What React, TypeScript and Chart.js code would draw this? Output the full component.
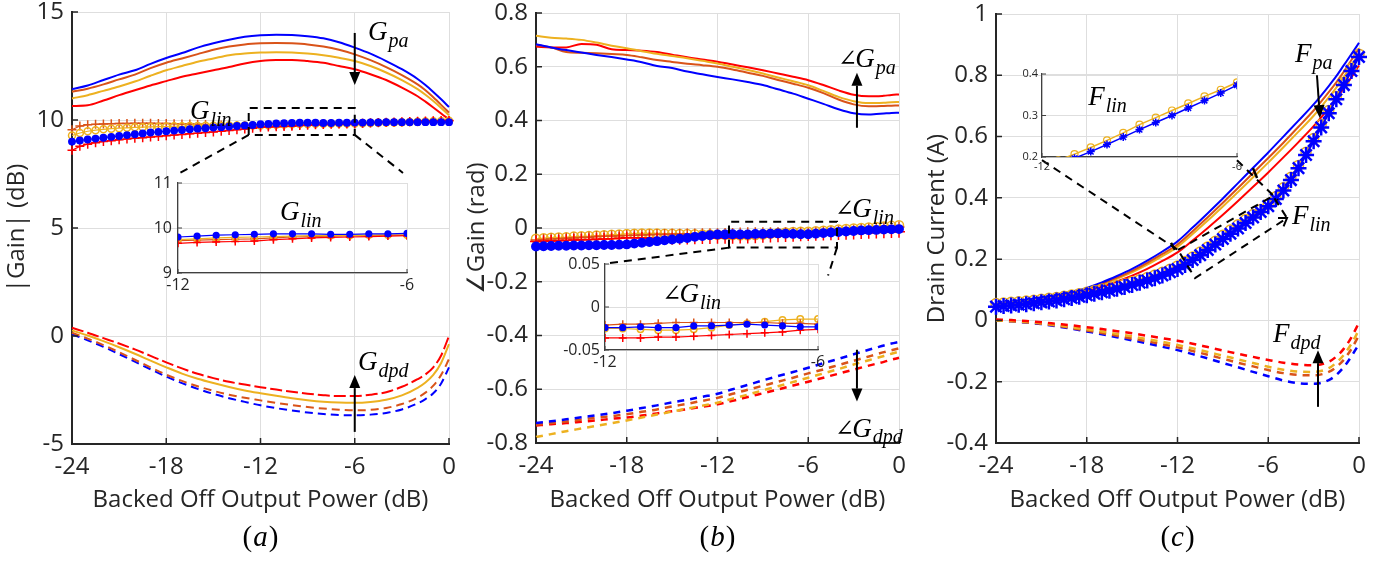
import React, { useEffect, useRef } from 'react';
import { Chart, registerables } from 'chart.js';

Chart.register(...registerables);

// Sample grids (dB of output back-off)
const X_LINE = [-24, -23, -22, -21, -20, -19, -18, -17, -16, -15, -14, -13, -12, -11, -10, -9, -8, -7, -6, -5, -4, -3, -2, -1.5, -1, -0.5, 0];
const X_MARK = [-24, -23.5, -23, -22.5, -22, -21.5, -21, -20.5, -20, -19.5, -19, -18.5, -18, -17.5, -17, -16.5, -16, -15.5, -15, -14.5, -14, -13.5, -13, -12.5, -12, -11.5, -11, -10.5, -10, -9.5, -9, -8.5, -8, -7.5, -7, -6.5, -6, -5.5, -5, -4.5, -4, -3.5, -3, -2.5, -2, -1.5, -1, -0.5, 0];

// Tick labels
const X_TICKS = [-24, -18, -12, -6, 0];
const INSET_X_TICKS = [-12, -6];
const A_Y_TICKS = [-5, 0, 5, 10, 15];
const B_Y_TICKS = [-0.8, -0.6, -0.4, -0.2, 0, 0.2, 0.4, 0.6, 0.8];
const C_Y_TICKS = [-0.4, -0.2, 0, 0.2, 0.4, 0.6, 0.8, 1];
const A_INSET_Y_TICKS = [9, 10, 11];
const B_INSET_Y_TICKS = [-0.05, 0, 0.05];
const C_INSET_Y_TICKS = [0.2, 0.3, 0.4];

// (a) |Gain| in dB
const GPA_BLUE = [11.43, 11.6, 11.85, 12.1, 12.3, 12.6, 12.87, 13.1, 13.35, 13.55, 13.72, 13.85, 13.92, 13.95, 13.94, 13.88, 13.78, 13.6, 13.35, 13.07, 12.73, 12.35, 11.9, 11.62, 11.3, 10.96, 10.6];
const GPA_BROWN = [11.31, 11.45, 11.65, 11.88, 12.1, 12.4, 12.65, 12.85, 13.05, 13.25, 13.4, 13.5, 13.55, 13.57, 13.55, 13.5, 13.4, 13.25, 13.04, 12.77, 12.45, 12.08, 11.65, 11.38, 11.05, 10.7, 10.34];
const GPA_GOLD = [11.0, 11.15, 11.35, 11.55, 11.78, 12.05, 12.3, 12.5, 12.7, 12.85, 13.0, 13.08, 13.12, 13.14, 13.13, 13.08, 13.0, 12.88, 12.73, 12.5, 12.2, 11.85, 11.43, 11.17, 10.88, 10.56, 10.22];
const GPA_RED = [10.65, 10.68, 10.9, 11.15, 11.38, 11.6, 11.8, 12.0, 12.15, 12.3, 12.45, 12.62, 12.73, 12.78, 12.78, 12.73, 12.65, 12.5, 12.35, 12.12, 11.85, 11.5, 11.1, 10.85, 10.58, 10.3, 10.03];

const GLIN_BLUE = [9.0, 9.05, 9.1, 9.14, 9.18, 9.22, 9.26, 9.3, 9.34, 9.38, 9.42, 9.45, 9.48, 9.51, 9.54, 9.57, 9.6, 9.62, 9.65, 9.67, 9.7, 9.72, 9.75, 9.77, 9.8, 9.82, 9.84, 9.85, 9.86, 9.87, 9.87, 9.87, 9.86, 9.86, 9.87, 9.87, 9.88, 9.88, 9.89, 9.89, 9.9, 9.9, 9.9, 9.9, 9.9, 9.9, 9.9, 9.9, 9.9];
const GLIN_RED = [8.6, 8.78, 8.88, 8.95, 9.0, 9.04, 9.08, 9.12, 9.15, 9.18, 9.21, 9.24, 9.27, 9.3, 9.33, 9.36, 9.39, 9.42, 9.45, 9.48, 9.51, 9.55, 9.58, 9.62, 9.66, 9.68, 9.69, 9.7, 9.71, 9.74, 9.76, 9.78, 9.79, 9.8, 9.81, 9.82, 9.83, 9.85, 9.87, 9.88, 9.9, 9.91, 9.92, 9.93, 9.94, 9.95, 9.96, 9.97, 9.98];
const GLIN_BROWN = [9.55, 9.72, 9.78, 9.8, 9.82, 9.83, 9.84, 9.84, 9.85, 9.85, 9.85, 9.84, 9.84, 9.83, 9.82, 9.81, 9.8, 9.79, 9.78, 9.77, 9.76, 9.75, 9.74, 9.73, 9.72, 9.73, 9.74, 9.75, 9.76, 9.78, 9.8, 9.81, 9.82, 9.83, 9.83, 9.84, 9.84, 9.85, 9.86, 9.87, 9.88, 9.89, 9.9, 9.91, 9.92, 9.93, 9.94, 9.96, 9.97];
const GLIN_GOLD = [9.28, 9.4, 9.48, 9.53, 9.57, 9.6, 9.62, 9.64, 9.66, 9.67, 9.68, 9.69, 9.7, 9.71, 9.71, 9.72, 9.72, 9.73, 9.73, 9.73, 9.74, 9.74, 9.74, 9.74, 9.74, 9.76, 9.78, 9.79, 9.8, 9.81, 9.82, 9.83, 9.83, 9.83, 9.84, 9.84, 9.84, 9.85, 9.86, 9.87, 9.88, 9.89, 9.9, 9.91, 9.92, 9.93, 9.94, 9.95, 9.96];

const GDPD_RED = [0.38, 0.15, -0.1, -0.35, -0.62, -0.92, -1.22, -1.5, -1.75, -1.95, -2.12, -2.25, -2.37, -2.48, -2.58, -2.67, -2.74, -2.78, -2.78, -2.72, -2.6, -2.35, -2.0, -1.78, -1.45, -0.9, 0.0];
const GDPD_GOLD = [0.26, 0.02, -0.24, -0.52, -0.82, -1.14, -1.45, -1.74, -1.98, -2.18, -2.36, -2.52, -2.65, -2.77, -2.88, -2.97, -3.04, -3.08, -3.09, -3.05, -2.95, -2.75, -2.4, -2.15, -1.8, -1.25, -0.38];
const GDPD_BROWN = [0.15, -0.12, -0.42, -0.75, -1.1, -1.45, -1.79, -2.08, -2.33, -2.54, -2.72, -2.86, -2.98, -3.1, -3.2, -3.29, -3.36, -3.41, -3.44, -3.42, -3.33, -3.15, -2.85, -2.62, -2.3, -1.8, -1.07];
const GDPD_BLUE = [0.08, -0.2, -0.5, -0.84, -1.19, -1.54, -1.88, -2.18, -2.45, -2.68, -2.88, -3.05, -3.21, -3.34, -3.45, -3.54, -3.61, -3.66, -3.67, -3.64, -3.56, -3.4, -3.12, -2.92, -2.65, -2.2, -1.45];

// (b) gain phase in rad
const PPA_BLUE = [0.684, 0.672, 0.662, 0.653, 0.644, 0.636, 0.627, 0.617, 0.603, 0.595, 0.582, 0.572, 0.562, 0.553, 0.543, 0.532, 0.516, 0.5, 0.481, 0.462, 0.442, 0.427, 0.422, 0.424, 0.426, 0.428, 0.429];
const PPA_GOLD = [0.715, 0.708, 0.705, 0.7, 0.69, 0.678, 0.669, 0.658, 0.648, 0.64, 0.632, 0.622, 0.612, 0.6, 0.588, 0.575, 0.56, 0.546, 0.531, 0.51, 0.488, 0.472, 0.465, 0.465, 0.466, 0.468, 0.469];
const PPA_BROWN = [0.681, 0.672, 0.655, 0.652, 0.65, 0.647, 0.644, 0.635, 0.625, 0.618, 0.611, 0.606, 0.6, 0.59, 0.578, 0.566, 0.551, 0.537, 0.522, 0.502, 0.478, 0.46, 0.453, 0.453, 0.454, 0.455, 0.456];
const PPA_RED = [0.675, 0.672, 0.672, 0.685, 0.682, 0.665, 0.662, 0.66, 0.655, 0.645, 0.635, 0.627, 0.619, 0.608, 0.598, 0.587, 0.575, 0.563, 0.55, 0.532, 0.512, 0.496, 0.49, 0.49, 0.492, 0.495, 0.497];

const PLIN_BLUE = [-0.069, -0.068, -0.067, -0.066, -0.066, -0.065, -0.065, -0.064, -0.064, -0.063, -0.063, -0.062, -0.061, -0.058, -0.055, -0.052, -0.049, -0.046, -0.043, -0.04, -0.037, -0.033, -0.03, -0.027, -0.024, -0.024, -0.023, -0.024, -0.024, -0.022, -0.022, -0.021, -0.02, -0.021, -0.022, -0.023, -0.023, -0.021, -0.019, -0.017, -0.015, -0.013, -0.011, -0.009, -0.008, -0.007, -0.006, -0.005, -0.004];
const PLIN_GOLD = [-0.04, -0.038, -0.036, -0.035, -0.034, -0.032, -0.031, -0.03, -0.028, -0.027, -0.025, -0.024, -0.022, -0.021, -0.02, -0.02, -0.02, -0.021, -0.021, -0.022, -0.022, -0.023, -0.024, -0.024, -0.025, -0.025, -0.026, -0.027, -0.027, -0.026, -0.024, -0.021, -0.019, -0.017, -0.015, -0.014, -0.014, -0.012, -0.01, -0.008, -0.006, -0.004, -0.002, 0.0, 0.002, 0.004, 0.006, 0.008, 0.01];
const PLIN_BROWN = [-0.045, -0.043, -0.041, -0.04, -0.038, -0.037, -0.035, -0.034, -0.032, -0.031, -0.03, -0.029, -0.028, -0.027, -0.026, -0.025, -0.024, -0.024, -0.023, -0.023, -0.022, -0.022, -0.021, -0.021, -0.021, -0.02, -0.02, -0.019, -0.018, -0.018, -0.018, -0.018, -0.018, -0.018, -0.019, -0.019, -0.02, -0.018, -0.016, -0.014, -0.012, -0.01, -0.008, -0.006, -0.004, -0.002, 0.0, 0.002, 0.004];
const PLIN_RED = [-0.05, -0.049, -0.048, -0.047, -0.046, -0.045, -0.044, -0.043, -0.042, -0.041, -0.04, -0.038, -0.036, -0.036, -0.037, -0.038, -0.039, -0.04, -0.04, -0.04, -0.039, -0.038, -0.037, -0.037, -0.036, -0.036, -0.036, -0.035, -0.035, -0.034, -0.033, -0.032, -0.031, -0.03, -0.029, -0.027, -0.026, -0.025, -0.024, -0.023, -0.022, -0.021, -0.02, -0.019, -0.018, -0.017, -0.016, -0.015, -0.014];

const PDPD_BLUE = [-0.726, -0.719, -0.712, -0.704, -0.697, -0.689, -0.68, -0.67, -0.66, -0.649, -0.639, -0.628, -0.617, -0.6, -0.584, -0.567, -0.551, -0.536, -0.52, -0.503, -0.487, -0.47, -0.453, -0.445, -0.437, -0.43, -0.424];
const PDPD_BROWN = [-0.732, -0.726, -0.72, -0.713, -0.706, -0.7, -0.693, -0.684, -0.675, -0.664, -0.654, -0.643, -0.632, -0.617, -0.602, -0.587, -0.572, -0.557, -0.541, -0.526, -0.51, -0.494, -0.478, -0.47, -0.462, -0.455, -0.448];
const PDPD_GOLD = [-0.778, -0.767, -0.756, -0.746, -0.736, -0.726, -0.716, -0.705, -0.694, -0.683, -0.672, -0.661, -0.65, -0.635, -0.62, -0.604, -0.589, -0.573, -0.557, -0.541, -0.525, -0.508, -0.492, -0.484, -0.476, -0.468, -0.46];
const PDPD_RED = [-0.735, -0.73, -0.726, -0.721, -0.716, -0.71, -0.705, -0.698, -0.69, -0.682, -0.674, -0.665, -0.656, -0.643, -0.629, -0.615, -0.601, -0.586, -0.572, -0.557, -0.542, -0.527, -0.512, -0.505, -0.498, -0.49, -0.483];

// (c) drain current in A
const FPA_BLUE = [0.055, 0.061, 0.068, 0.076, 0.084, 0.094, 0.106, 0.124, 0.145, 0.168, 0.195, 0.225, 0.258, 0.303, 0.35, 0.398, 0.448, 0.498, 0.548, 0.6, 0.652, 0.705, 0.765, 0.797, 0.833, 0.869, 0.906];
const FPA_BROWN = [0.054, 0.06, 0.067, 0.074, 0.082, 0.092, 0.103, 0.12, 0.14, 0.162, 0.188, 0.217, 0.248, 0.291, 0.337, 0.384, 0.432, 0.481, 0.53, 0.58, 0.632, 0.685, 0.745, 0.777, 0.812, 0.85, 0.888];
const FPA_GOLD = [0.054, 0.06, 0.066, 0.073, 0.081, 0.09, 0.101, 0.117, 0.136, 0.157, 0.182, 0.21, 0.24, 0.282, 0.326, 0.372, 0.419, 0.467, 0.515, 0.565, 0.616, 0.668, 0.728, 0.76, 0.795, 0.833, 0.872];
const FPA_RED = [0.052, 0.057, 0.063, 0.07, 0.077, 0.086, 0.096, 0.11, 0.127, 0.146, 0.168, 0.194, 0.222, 0.261, 0.302, 0.345, 0.39, 0.436, 0.483, 0.532, 0.582, 0.634, 0.693, 0.725, 0.758, 0.794, 0.832];

const FLIN_BLUE = [0.045, 0.047, 0.049, 0.051, 0.053, 0.056, 0.059, 0.062, 0.065, 0.069, 0.073, 0.077, 0.082, 0.087, 0.092, 0.097, 0.103, 0.109, 0.116, 0.123, 0.13, 0.138, 0.147, 0.157, 0.168, 0.181, 0.197, 0.213, 0.23, 0.248, 0.266, 0.283, 0.3, 0.318, 0.336, 0.354, 0.373, 0.396, 0.424, 0.458, 0.497, 0.54, 0.585, 0.63, 0.676, 0.722, 0.768, 0.814, 0.86];
const FLIN_GOLD = [0.055, 0.057, 0.059, 0.061, 0.063, 0.066, 0.069, 0.072, 0.075, 0.079, 0.083, 0.087, 0.092, 0.097, 0.102, 0.107, 0.113, 0.119, 0.126, 0.133, 0.14, 0.148, 0.157, 0.167, 0.178, 0.192, 0.207, 0.223, 0.24, 0.258, 0.278, 0.295, 0.312, 0.329, 0.346, 0.362, 0.38, 0.404, 0.433, 0.467, 0.506, 0.549, 0.594, 0.639, 0.685, 0.731, 0.777, 0.823, 0.869];

const FDPD_RED = [0.003, 0.001, -0.002, -0.006, -0.011, -0.016, -0.022, -0.028, -0.035, -0.042, -0.05, -0.058, -0.066, -0.076, -0.087, -0.098, -0.109, -0.119, -0.129, -0.138, -0.144, -0.146, -0.135, -0.118, -0.092, -0.055, -0.007];
const FDPD_GOLD = [0.0, -0.002, -0.005, -0.009, -0.015, -0.022, -0.029, -0.036, -0.044, -0.052, -0.061, -0.07, -0.08, -0.091, -0.103, -0.115, -0.127, -0.139, -0.151, -0.161, -0.167, -0.168, -0.156, -0.138, -0.112, -0.076, -0.031];
const FDPD_BROWN = [0.0, -0.003, -0.006, -0.011, -0.017, -0.025, -0.033, -0.041, -0.05, -0.059, -0.068, -0.078, -0.088, -0.1, -0.112, -0.125, -0.138, -0.15, -0.162, -0.172, -0.178, -0.179, -0.168, -0.152, -0.128, -0.093, -0.048];
const FDPD_BLUE = [0.0, -0.003, -0.007, -0.012, -0.019, -0.027, -0.036, -0.045, -0.055, -0.065, -0.075, -0.086, -0.097, -0.11, -0.124, -0.139, -0.153, -0.168, -0.182, -0.196, -0.205, -0.207, -0.195, -0.178, -0.152, -0.117, -0.077];

const C_BLUE = '#0000ff';
const C_RED = '#ff0000';
const C_BROWN = '#d95319';
const C_GOLD = '#edb120';
const INK = '#262626';
const GRID = '#dedede';
const SANS = '"Open Sans", "DejaVu Sans", sans-serif';
const SERIF = '"Liberation Serif", "DejaVu Serif", serif';
const SYMBOL = '"DejaVu Serif", serif';

type Pt = [number, number];
type Ann =
  | { k: 'math'; at: Pt; pre?: string; base: string; sub: string; size?: number }
  | { k: 'arrow'; from: Pt; to: Pt }
  | { k: 'dash'; pts: Pt[]; closed?: boolean }
  | { k: 'seg'; from: Pt; to: Pt }
  | { k: 'chevron'; at: Pt; from: Pt };

const xy = (xs: number[], ys: number[]) => xs.map((x, i) => ({ x, y: ys[i] }));

const curve = (color: string, ys: number[], width = 2, dash: number[] = []) => ({
  data: xy(X_LINE, ys),
  borderColor: color,
  backgroundColor: color,
  borderWidth: width,
  borderDash: dash,
  pointRadius: 0,
  fill: false,
  cubicInterpolationMode: 'monotone',
});

const marks = (color: string, ys: number[], style: string, radius: number, filled: boolean, lineWidth = 1.2, pointWidth = 1.5) => ({
  data: xy(X_MARK, ys),
  borderColor: color,
  backgroundColor: color,
  borderWidth: lineWidth,
  pointStyle: style,
  pointRadius: radius,
  pointBorderColor: color,
  pointBackgroundColor: filled ? color : 'rgba(255,255,255,0)',
  pointBorderWidth: pointWidth,
  fill: false,
  tension: 0,
});

function drawMath(ctx: CanvasRenderingContext2D, px: number, py: number, a: any) {
  const size = a.size || 27;
  ctx.fillStyle = '#000';
  ctx.textBaseline = 'middle';
  ctx.textAlign = 'left';
  let cx = px;
  if (a.pre) {
    ctx.font = `${Math.round(size * 0.85)}px ${SYMBOL}`;
    ctx.fillText(a.pre, cx, py);
    cx += ctx.measureText(a.pre).width - 2;
  }
  ctx.font = `italic ${size}px ${SERIF}`;
  ctx.fillText(a.base, cx, py);
  cx += ctx.measureText(a.base).width + 1;
  ctx.font = `italic ${Math.round(size * 0.74)}px ${SERIF}`;
  ctx.fillText(a.sub, cx, py + size * 0.32);
}

function drawArrow(ctx: CanvasRenderingContext2D, x1: number, y1: number, x2: number, y2: number) {
  const ang = Math.atan2(y2 - y1, x2 - x1);
  const len = 13;
  const half = 5.5;
  const bx = x2 - len * Math.cos(ang);
  const by = y2 - len * Math.sin(ang);
  ctx.strokeStyle = '#000';
  ctx.fillStyle = '#000';
  ctx.lineWidth = 2;
  ctx.setLineDash([]);
  ctx.beginPath();
  ctx.moveTo(x1, y1);
  ctx.lineTo(bx, by);
  ctx.stroke();
  ctx.beginPath();
  ctx.moveTo(x2, y2);
  ctx.lineTo(bx + half * Math.sin(ang), by - half * Math.cos(ang));
  ctx.lineTo(bx - half * Math.sin(ang), by + half * Math.cos(ang));
  ctx.closePath();
  ctx.fill();
}

interface Spec {
  id: string;
  box: { left: number; top: number; width: number; height: number };
  area: { left: number; right: number; top: number; bottom: number };
  xRange: [number, number];
  xTicks: number[];
  yRange: [number, number];
  yTicks: number[];
  font: number;
  padX: number;
  padY: number;
  axisWidth: number;
  axisColor: string;
  tickLen: number;
  xTitle?: string;
  yTitle?: string;
  caption?: { text: string; y: number };
  clip: boolean;
  datasets: any[];
  anns: Ann[];
}

function decorPlugin(spec: Spec) {
  return {
    id: 'decor_' + spec.id,
    afterDraw(chart: any) {
      const { ctx, chartArea: ca, scales } = chart;
      const sx = scales.x;
      const sy = scales.y;
      const P = (p: Pt) => [sx.getPixelForValue(p[0]), sy.getPixelForValue(p[1])];
      ctx.save();
      // inward tick marks
      ctx.strokeStyle = spec.axisColor;
      ctx.lineWidth = Math.max(1, spec.axisWidth - 0.5);
      ctx.beginPath();
      for (const v of spec.xTicks) {
        const px = sx.getPixelForValue(v);
        ctx.moveTo(px, ca.bottom);
        ctx.lineTo(px, ca.bottom - spec.tickLen);
      }
      for (const v of spec.yTicks) {
        const py = sy.getPixelForValue(v);
        ctx.moveTo(ca.left, py);
        ctx.lineTo(ca.left + spec.tickLen, py);
      }
      ctx.stroke();

      for (const a of spec.anns) {
        if (a.k === 'math') {
          const [px, py] = P(a.at);
          drawMath(ctx, px, py, a);
        } else if (a.k === 'arrow') {
          const [x1, y1] = P(a.from);
          const [x2, y2] = P(a.to);
          drawArrow(ctx, x1, y1, x2, y2);
        } else if (a.k === 'dash') {
          ctx.strokeStyle = '#000';
          ctx.lineWidth = 2;
          ctx.setLineDash([8, 6]);
          ctx.beginPath();
          a.pts.forEach((p, i) => {
            const [px, py] = P(p);
            if (i === 0) ctx.moveTo(px, py);
            else ctx.lineTo(px, py);
          });
          if (a.closed) ctx.closePath();
          ctx.stroke();
          ctx.setLineDash([]);
        } else if (a.k === 'seg') {
          const [x1, y1] = P(a.from);
          const [x2, y2] = P(a.to);
          ctx.strokeStyle = '#000';
          ctx.lineWidth = 2.5;
          ctx.setLineDash([]);
          ctx.beginPath();
          ctx.moveTo(x1, y1);
          ctx.lineTo(x2, y2);
          ctx.stroke();
        } else if (a.k === 'chevron') {
          const [x2, y2] = P(a.at);
          const [x1, y1] = P(a.from);
          const ang = Math.atan2(y2 - y1, x2 - x1);
          const l = 9;
          ctx.strokeStyle = '#000';
          ctx.lineWidth = 2;
          ctx.setLineDash([]);
          ctx.beginPath();
          ctx.moveTo(x2 - l * Math.cos(ang - 0.6), y2 - l * Math.sin(ang - 0.6));
          ctx.lineTo(x2, y2);
          ctx.lineTo(x2 - l * Math.cos(ang + 0.6), y2 - l * Math.sin(ang + 0.6));
          ctx.stroke();
        }
      }

      if (spec.caption) {
        const cx = (ca.left + ca.right) / 2;
        const cy = spec.caption.y;
        ctx.fillStyle = '#000';
        ctx.textBaseline = 'middle';
        const size = 29;
        ctx.font = `${size}px ${SERIF}`;
        const wp = ctx.measureText('(').width;
        ctx.font = `italic ${size}px ${SERIF}`;
        const wl = ctx.measureText(spec.caption.text).width;
        const total = wp * 2 + wl + 2;
        let x = cx - total / 2;
        ctx.textAlign = 'left';
        ctx.font = `${size}px ${SERIF}`;
        ctx.fillText('(', x, cy);
        x += wp + 1;
        ctx.font = `italic ${size}px ${SERIF}`;
        ctx.fillText(spec.caption.text, x, cy);
        x += wl + 1;
        ctx.font = `${size}px ${SERIF}`;
        ctx.fillText(')', x, cy);
      }
      ctx.restore();
    },
  };
}

function buildConfig(spec: Spec): any {
  const zeroPad = (s: any) => {
    s.paddingTop = 0;
    s.paddingBottom = 0;
    s.paddingLeft = 0;
    s.paddingRight = 0;
  };
  const tickFont = { family: SANS, size: spec.font };
  return {
    type: 'line',
    data: { datasets: spec.datasets.map((d) => ({ ...d, clip: spec.clip ? undefined : false })) },
    options: {
      animation: false,
      responsive: false,
      devicePixelRatio: 1,
      events: [],
      layout: {
        padding: { left: 0, top: spec.area.top, right: spec.box.width - spec.area.right, bottom: 0 },
      },
      plugins: { legend: { display: false }, tooltip: { enabled: false }, title: { display: false } },
      scales: {
        x: {
          type: 'linear',
          min: spec.xRange[0],
          max: spec.xRange[1],
          afterBuildTicks: (s: any) => {
            s.ticks = spec.xTicks.map((value) => ({ value }));
          },
          afterFit: (s: any) => {
            s.height = spec.box.height - spec.area.bottom;
            zeroPad(s);
          },
          grid: { color: GRID, lineWidth: 1, drawTicks: false },
          border: { display: true, color: spec.axisColor, width: spec.axisWidth },
          ticks: { font: tickFont, color: INK, padding: spec.padX, maxRotation: 0, autoSkip: false, callback: (v: any) => String(v) },
          title: spec.xTitle
            ? { display: true, text: spec.xTitle, font: { family: SANS, size: spec.font }, color: INK, padding: { top: 0, bottom: 47 } }
            : { display: false },
        },
        y: {
          type: 'linear',
          min: spec.yRange[0],
          max: spec.yRange[1],
          afterBuildTicks: (s: any) => {
            s.ticks = spec.yTicks.map((value) => ({ value }));
          },
          afterFit: (s: any) => {
            s.width = spec.area.left;
            zeroPad(s);
          },
          grid: { color: GRID, lineWidth: 1, drawTicks: false },
          border: { display: true, color: spec.axisColor, width: spec.axisWidth },
          ticks: { font: tickFont, color: INK, padding: spec.padY, autoSkip: false, callback: (v: any) => String(v) },
          title: spec.yTitle
            ? { display: true, text: spec.yTitle, font: { family: SANS, size: spec.font }, color: INK, padding: { top: 3, bottom: 0 } }
            : { display: false },
        },
      },
    },
    plugins: [decorPlugin(spec)],
  };
}

const MAIN_BASE = {
  xRange: [-24, 0] as [number, number],
  xTicks: X_TICKS,
  font: 24,
  padX: 9,
  padY: 8,
  axisWidth: 2,
  axisColor: INK,
  tickLen: 6,
  xTitle: 'Backed Off Output Power (dB)',
  clip: false,
};

const INSET_BASE = {
  xRange: [-12, -6] as [number, number],
  xTicks: INSET_X_TICKS,
  padX: 3,
  axisWidth: 1.2,
  axisColor: '#404040',
  tickLen: 4,
  clip: true,
};

const SPECS: Spec[] = [
  {
    ...MAIN_BASE,
    id: 'a',
    box: { left: 0, top: 0, width: 460, height: 562 },
    area: { left: 72, right: 449, top: 12, bottom: 444 },
    yRange: [-5, 15],
    yTicks: A_Y_TICKS,
    yTitle: '|Gain| (dB)',
    caption: { text: 'a', y: 538 },
    datasets: [
      marks(C_BLUE, GLIN_BLUE, 'circle', 3.2, true),
      marks(C_RED, GLIN_RED, 'cross', 4.5, false),
      marks(C_GOLD, GLIN_GOLD, 'circle', 3.5, false),
      marks(C_BROWN, GLIN_BROWN, 'cross', 4.5, false),
      curve(C_BLUE, GPA_BLUE),
      curve(C_BROWN, GPA_BROWN),
      curve(C_GOLD, GPA_GOLD),
      curve(C_RED, GPA_RED),
      curve(C_RED, GDPD_RED, 2, [12, 4]),
      curve(C_GOLD, GDPD_GOLD, 2),
      curve(C_BROWN, GDPD_BROWN, 2, [8, 5]),
      curve(C_BLUE, GDPD_BLUE, 2, [8, 5]),
    ],
    anns: [
      { k: 'math', at: [-5.16, 14.03], base: 'G', sub: 'pa' },
      { k: 'arrow', from: [-6, 14.03], to: [-6, 11.62] },
      { k: 'math', at: [-16.49, 10.37], base: 'G', sub: 'lin' },
      { k: 'dash', pts: [[-12.75, 9.31], [-12.75, 10.56], [-6, 10.56], [-6, 9.31]], closed: true },
      { k: 'dash', pts: [[-12.75, 9.31], [-17.38, 7.45]] },
      { k: 'dash', pts: [[-6, 9.31], [-2.93, 7.55]] },
      { k: 'math', at: [-5.79, -1.25], base: 'G', sub: 'dpd' },
      { k: 'arrow', from: [-6, -4.44], to: [-6, -1.81] },
    ],
  },
  {
    ...MAIN_BASE,
    id: 'b',
    box: { left: 460, top: 0, width: 460, height: 562 },
    area: { left: 76, right: 439, top: 13, bottom: 443 },
    yRange: [-0.8, 0.8],
    yTicks: B_Y_TICKS,
    yTitle: '∠Gain (rad)',
    caption: { text: 'b', y: 538 },
    datasets: [
      marks(C_BLUE, PLIN_BLUE, 'circle', 4.2, true),
      marks(C_RED, PLIN_RED, 'cross', 6, false),
      marks(C_BROWN, PLIN_BROWN, 'cross', 5.5, false),
      marks(C_GOLD, PLIN_GOLD, 'circle', 4.5, false),
      curve(C_BLUE, PPA_BLUE),
      curve(C_BROWN, PPA_BROWN),
      curve(C_GOLD, PPA_GOLD),
      curve(C_RED, PPA_RED),
      curve(C_BLUE, PDPD_BLUE, 2.5, [7, 6]),
      curve(C_BROWN, PDPD_BROWN, 2.5, [7, 6]),
      curve(C_GOLD, PDPD_GOLD, 2.5, [7, 6]),
      curve(C_RED, PDPD_RED, 2.5, [7, 6]),
    ],
    anns: [
      { k: 'math', at: [-4.03, 0.626], pre: '∠', base: 'G', sub: 'pa' },
      { k: 'arrow', from: [-2.78, 0.373], to: [-2.78, 0.578] },
      { k: 'math', at: [-4.23, 0.068], pre: '∠', base: 'G', sub: 'lin' },
      { k: 'dash', pts: [[-11.24, -0.073], [-11.24, 0.023], [-4.1, 0.023], [-4.1, -0.073]], closed: true },
      { k: 'dash', pts: [[-11.24, -0.073], [-19.44, -0.133]] },
      { k: 'dash', pts: [[-4.1, -0.073], [-4.69, -0.177]] },
      { k: 'math', at: [-4.23, -0.75], pre: '∠', base: 'G', sub: 'dpd' },
      { k: 'arrow', from: [-2.78, -0.453], to: [-2.78, -0.646] },
    ],
  },
  {
    ...MAIN_BASE,
    id: 'c',
    box: { left: 920, top: 0, width: 468, height: 562 },
    area: { left: 76, right: 439, top: 14, bottom: 443 },
    yRange: [-0.4, 1],
    yTicks: C_Y_TICKS,
    yTitle: 'Drain Current (A)',
    caption: { text: 'c', y: 538 },
    datasets: [
      marks(C_BLUE, FLIN_BLUE, 'star', 8, false, 2, 2.5),
      marks(C_GOLD, FLIN_GOLD, 'circle', 5, false, 2, 1.5),
      curve(C_BLUE, FPA_BLUE),
      curve(C_BROWN, FPA_BROWN),
      curve(C_GOLD, FPA_GOLD),
      curve(C_RED, FPA_RED),
      curve(C_RED, FDPD_RED, 2.5, [7, 6]),
      curve(C_GOLD, FDPD_GOLD, 2.5, [7, 6]),
      curve(C_BROWN, FDPD_BROWN, 2.5, [7, 6]),
      curve(C_BLUE, FDPD_BLUE, 2.5, [7, 6]),
    ],
    anns: [
      { k: 'math', at: [-4.23, 0.866], base: 'F', sub: 'pa' },
      { k: 'arrow', from: [-2.78, 0.8], to: [-2.58, 0.66] },
      { k: 'math', at: [-4.43, 0.337], base: 'F', sub: 'lin' },
      { k: 'dash', pts: [[-20.96, 0.523], [-11.97, 0.23]] },
      { k: 'dash', pts: [[-8.07, 0.523], [-5.36, 0.393]] },
      { k: 'dash', pts: [[-11.97, 0.23], [-5.69, 0.406], [-4.76, 0.334], [-10.84, 0.138]], closed: true },
      { k: 'chevron', at: [-4.76, 0.334], from: [-10.84, 0.138] },
      { k: 'seg', from: [-7.01, 0.497], to: [-6.74, 0.465] },
      { k: 'seg', from: [-12.43, 0.253], to: [-12.17, 0.23] },
      { k: 'math', at: [-5.69, -0.048], base: 'F', sub: 'dpd' },
      { k: 'arrow', from: [-2.71, -0.282], to: [-2.71, -0.097] },
    ],
  },
  {
    ...INSET_BASE,
    id: 'a-inset',
    font: 16,
    padY: 6,
    box: { left: 130, top: 170, width: 290, height: 130 },
    area: { left: 48, right: 277, top: 13, bottom: 103 },
    yRange: [9, 11],
    yTicks: A_INSET_Y_TICKS,
    datasets: [
      marks(C_BLUE, GLIN_BLUE, 'circle', 2.8, true),
      marks(C_RED, GLIN_RED, 'cross', 4, false),
      marks(C_GOLD, GLIN_GOLD, 'circle', 3, false),
      marks(C_BROWN, GLIN_BROWN, 'cross', 4, false),
    ],
    anns: [{ k: 'math', at: [-9.33, 10.33], base: 'G', sub: 'lin' }],
  },
  {
    ...INSET_BASE,
    id: 'b-inset',
    font: 16,
    padY: 5,
    box: { left: 555, top: 250, width: 280, height: 130 },
    area: { left: 50, right: 263, top: 14, bottom: 100 },
    yRange: [-0.05, 0.05],
    yTicks: B_INSET_Y_TICKS,
    datasets: [
      marks(C_BLUE, PLIN_BLUE, 'circle', 2.8, true),
      marks(C_RED, PLIN_RED, 'cross', 4, false),
      marks(C_BROWN, PLIN_BROWN, 'cross', 4, false),
      marks(C_GOLD, PLIN_GOLD, 'circle', 3.2, false),
    ],
    anns: [{ k: 'math', at: [-10.39, 0.014], pre: '∠', base: 'G', sub: 'lin' }],
  },
  {
    ...INSET_BASE,
    id: 'c-inset',
    font: 11,
    padY: 4,
    box: { left: 1005, top: 62, width: 250, height: 120 },
    area: { left: 37, right: 232, top: 12, bottom: 95 },
    yRange: [0.2, 0.4],
    yTicks: C_INSET_Y_TICKS,
    datasets: [
      marks(C_BLUE, FLIN_BLUE, 'star', 4, false, 1.5, 1.5),
      marks(C_GOLD, FLIN_GOLD, 'circle', 3.5, false, 1.5, 1.2),
    ],
    anns: [{ k: 'math', at: [-10.58, 0.342], base: 'F', sub: 'lin' }],
  },
];

export default function App() {
  const refs = useRef<(HTMLCanvasElement | null)[]>([]);

  useEffect(() => {
    const charts = SPECS.map((spec, i) => new Chart(refs.current[i] as HTMLCanvasElement, buildConfig(spec)));
    return () => {
      charts.forEach((c) => c.destroy());
    };
  }, []);

  return (
    <div style={{ position: 'absolute', left: 0, top: 0, width: 1388, height: 562, background: '#ffffff', overflow: 'hidden' }}>
      {SPECS.map((s, i) => (
        <canvas
          key={s.id}
          ref={(el) => {
            refs.current[i] = el;
          }}
          width={s.box.width}
          height={s.box.height}
          style={{ position: 'absolute', left: s.box.left, top: s.box.top, width: s.box.width, height: s.box.height }}
        />
      ))}
    </div>
  );
}
